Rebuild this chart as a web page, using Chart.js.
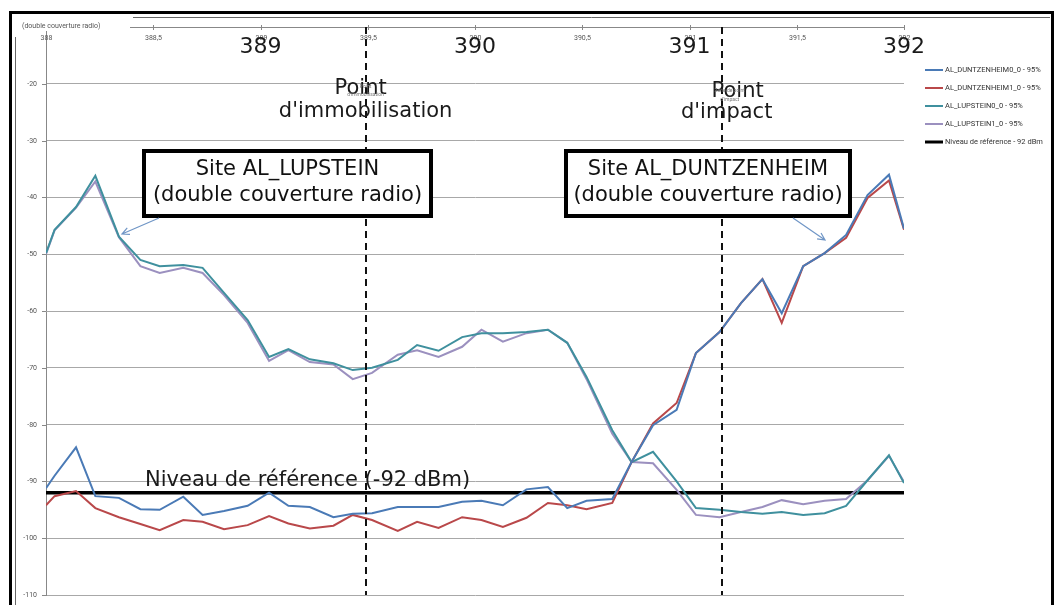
<!DOCTYPE html>
<html lang="fr">
<head>
<meta charset="utf-8">
<title>Couverture radio AL_LUPSTEIN / AL_DUNTZENHEIM</title>
<script src="https://cdn.jsdelivr.net/npm/chart.js@4.4.1/dist/chart.umd.min.js"></script>
<style>
    html, body { margin: 0; padding: 0; background: #fff; }
    #graphique { display: block; }
</style>
</head>
<body>
<canvas id="graphique" width="1056" height="605"></canvas>
<script>
// ==========================================================================
// Niveaux reçus (dBm) le long de la voie, PK 388 -> 392
// ==========================================================================

const pointsKm = [388.00, 388.04, 388.14, 388.23, 388.34, 388.44, 388.53, 388.64, 388.73, 388.83,
    388.94, 389.04, 389.13, 389.23, 389.34, 389.43, 389.52, 389.64, 389.73, 389.83,
    389.94, 390.03, 390.13, 390.24, 390.34, 390.43, 390.52, 390.64, 390.73, 390.83,
    390.94, 391.03, 391.14, 391.24, 391.34, 391.43, 391.53, 391.63, 391.73, 391.83,
    391.93, 392.00];

const duntzenheim0 = [-91.2, -89.0, -84.0, -92.6, -92.9, -94.9, -95.0, -92.7, -95.9, -95.2,
    -94.3, -92.0, -94.3, -94.5, -96.3, -95.7, -95.6, -94.5, -94.5, -94.5,
    -93.6, -93.4, -94.2, -91.4, -91.0, -94.7, -93.4, -93.1, -86.6, -80.1,
    -77.4, -67.4, -63.7, -58.6, -54.4, -60.4, -52.1, -49.8, -46.6, -39.6,
    -36.0, -45.5];

const duntzenheim1 = [-94.2, -92.6, -91.7, -94.7, -96.3, -97.5, -98.6, -96.8, -97.1, -98.4,
    -97.7, -96.1, -97.4, -98.3, -97.8, -95.9, -96.8, -98.7, -97.1, -98.2,
    -96.3, -96.8, -98.0, -96.4, -93.8, -94.2, -94.9, -93.8, -86.6, -79.8,
    -76.2, -67.4, -63.7, -58.6, -54.4, -62.1, -52.1, -49.8, -47.1, -40.1,
    -37.0, -45.7];

const lupstein0 = [-49.8, -45.7, -41.7, -36.2, -46.9, -51.0, -52.1, -51.9, -52.4, -56.8,
    -61.6, -68.1, -66.7, -68.5, -69.2, -70.4, -70.0, -68.6, -66.0, -67.0,
    -64.6, -63.9, -63.9, -63.7, -63.3, -65.6, -71.6, -81.0, -86.6, -84.8,
    -90.0, -94.7, -95.0, -95.4, -95.7, -95.4, -95.9, -95.6, -94.3, -89.8,
    -85.4, -90.3];

const lupstein1 = [-50.0, -45.8, -41.8, -37.2, -47.0, -52.1, -53.3, -52.4, -53.3, -57.2,
    -62.1, -68.8, -66.9, -69.0, -69.4, -72.0, -70.9, -67.7, -66.9, -68.1,
    -66.3, -63.3, -65.4, -63.9, -63.3, -65.6, -72.0, -81.6, -86.6, -86.8,
    -91.5, -95.9, -96.3, -95.4, -94.5, -93.3, -94.0, -93.4, -93.1, -89.8,
    -85.5, -90.1];

const niveauReference = -92;

// Axes
const graduationsX = [388, 388.5, 389, 389.5, 390, 390.5, 391, 391.5, 392];
const grandesEtiquettesX = [389, 390, 391, 392];
const graduationsY = [-20, -30, -40, -50, -60, -70, -80, -90, -100, -110];

// Repères verticaux : point d'immobilisation, point d'impact
const marqueursKm = [389.49, 391.15];

const nomsSeries = ['AL_DUNTZENHEIM0_0 - 95%', 'AL_DUNTZENHEIM1_0 - 95%',
    'AL_LUPSTEIN0_0 - 95%', 'AL_LUPSTEIN1_0 - 95%', 'Niveau de référence - 92 dBm'];
const couleurs = ['#4a7ab6', '#b9484a', '#3f909e', '#9b90bf', '#000000'];

function serie(valeurs) {
    return pointsKm.map((x, i) => ({ x: x, y: valeurs[i] }));
}

// ==========================================================================
// Habillage : étiquettes, cadres, flèches, légende
// ==========================================================================
const POLICE = '21px "DejaVu Sans"';

function texte(ctx, t, x, y, police, couleur, align) {
    ctx.font = police;
    ctx.fillStyle = couleur;
    ctx.textAlign = align || 'center';
    ctx.fillText(t, x, y);
}

function boite(ctx, x, y, w, h, lignes) {
    ctx.fillStyle = '#fff';
    ctx.fillRect(x, y, w, h);
    ctx.lineWidth = 4;
    ctx.strokeStyle = '#000';
    ctx.strokeRect(x, y, w, h);
    ctx.textBaseline = 'middle';
    texte(ctx, lignes[0], x + w / 2, y + 19, POLICE, '#111');
    texte(ctx, lignes[1], x + w / 2, y + 45, POLICE, '#111');
    ctx.textBaseline = 'alphabetic';
}

function fleche(ctx, x1, y1, x2, y2) {
    const ang = Math.atan2(y2 - y1, x2 - x1);
    ctx.strokeStyle = '#7096c6';
    ctx.lineWidth = 1.2;
    ctx.beginPath();
    ctx.moveTo(x1, y1);
    ctx.lineTo(x2, y2);
    ctx.moveTo(x2 - 8 * Math.cos(ang - 0.45), y2 - 8 * Math.sin(ang - 0.45));
    ctx.lineTo(x2, y2);
    ctx.lineTo(x2 - 8 * Math.cos(ang + 0.45), y2 - 8 * Math.sin(ang + 0.45));
    ctx.stroke();
}

const habillage = {
    id: 'habillage',
    beforeDraw(chart) {
        const ctx = chart.ctx;
        ctx.save();
        ctx.fillStyle = '#fff';
        ctx.fillRect(0, 0, chart.width, chart.height);
        ctx.restore();
    },
    afterDraw(chart) {
        const ctx = chart.ctx;
        const sx = chart.scales.x;
        const sy = chart.scales.y;
        const zone = chart.chartArea;
        ctx.save();

        // ---- graduations Y ----
        ctx.strokeStyle = '#888';
        ctx.lineWidth = 1;
        ctx.textBaseline = 'middle';
        graduationsY.forEach(v => {
            const y = Math.round(sy.getPixelForValue(v)) + 0.5;
            ctx.beginPath();
            ctx.moveTo(zone.left - 4, y);
            ctx.lineTo(zone.left, y);
            ctx.stroke();
            texte(ctx, String(v), zone.left - 9, y, '7px Roboto', '#555', 'right');
        });

        // ---- graduations X (en haut) ----
        graduationsX.forEach(v => {
            const x = Math.round(sx.getPixelForValue(v)) + 0.5;
            ctx.beginPath();
            ctx.moveTo(x, zone.top - 2);
            ctx.lineTo(x, zone.top + 3);
            ctx.stroke();
            texte(ctx, String(v).replace('.', ','), x, zone.top + 11, '7px Roboto', '#555');
        });
        ctx.textBaseline = 'alphabetic';
        grandesEtiquettesX.forEach(v => {
            texte(ctx, String(v), sx.getPixelForValue(v), 53, '22px "DejaVu Sans"', '#1a1a1a');
        });

        // ---- titre tronqué en haut à gauche ----
        ctx.fillStyle = '#fff';
        ctx.fillRect(18, 20, 112, 11);
        ctx.textBaseline = 'middle';
        texte(ctx, '(double couverture radio)', 22, 26, '7px Roboto', '#555', 'left');
        ctx.textBaseline = 'alphabetic';

        // ---- repères verticaux pointillés ----
        ctx.strokeStyle = '#111';
        ctx.lineWidth = 2;
        ctx.setLineDash([7, 5]);
        marqueursKm.forEach(m => {
            const x = Math.round(sx.getPixelForValue(m));
            ctx.beginPath();
            ctx.moveTo(x, zone.top);
            ctx.lineTo(x, zone.bottom);
            ctx.stroke();
        });
        ctx.setLineDash([]);

        // ---- libellés des repères ----
        const xImmo = sx.getPixelForValue(marqueursKm[0]);
        const xImpact = sx.getPixelForValue(marqueursKm[1]);
        texte(ctx, 'Point', xImmo - 5, 94, POLICE, '#1a1a1a');
        texte(ctx, "d'immobilisation", xImmo, 117, POLICE, '#1a1a1a');
        texte(ctx, 'Point', xImmo, 88, '5px Roboto', '#777');
        texte(ctx, "d'immobilisation", xImmo, 96, '5px Roboto', '#777');
        texte(ctx, 'Point', xImpact + 16, 97, POLICE, '#1a1a1a');
        texte(ctx, "d'impact", xImpact + 5, 118, POLICE, '#1a1a1a');
        texte(ctx, 'Zone de point', xImpact + 8, 92, '5px Roboto', '#777');
        texte(ctx, "d'impact", xImpact + 8, 101, '5px Roboto', '#777');

        // ---- cadres des sites ----
        boite(ctx, 144, 151, 287, 65, ['Site AL_LUPSTEIN', '(double couverture radio)']);
        boite(ctx, 566, 151, 284, 65, ['Site AL_DUNTZENHEIM', '(double couverture radio)']);
        fleche(ctx, 159, 218, 122, 234);
        fleche(ctx, 793, 218, 825, 240);

        // ---- niveau de référence ----
        texte(ctx, 'Niveau de référence (-92 dBm)', 145, 486, POLICE, '#1a1a1a', 'left');

        // ---- légende ----
        ctx.textBaseline = 'middle';
        nomsSeries.forEach((nom, i) => {
            const y = 70 + i * 18;
            ctx.strokeStyle = couleurs[i];
            ctx.lineWidth = i === 4 ? 3 : 2;
            ctx.beginPath();
            ctx.moveTo(925, y);
            ctx.lineTo(943, y);
            ctx.stroke();
            texte(ctx, nom, 945, y, '7.5px Roboto', '#333', 'left');
        });
        ctx.textBaseline = 'alphabetic';

        // ---- cadre de la diapositive ----
        ctx.strokeStyle = '#000';
        ctx.lineWidth = 3;
        ctx.strokeRect(10.5, 12.5, 1042, 620);
        ctx.strokeStyle = '#666';
        ctx.lineWidth = 1;
        ctx.beginPath();
        ctx.moveTo(133, 17.5);
        ctx.lineTo(1050, 17.5);
        ctx.moveTo(15.5, 37);
        ctx.lineTo(15.5, 605);
        ctx.stroke();

        ctx.restore();
    }
};

// ==========================================================================
// Graphique
// ==========================================================================
const jeux = [duntzenheim0, duntzenheim1, lupstein0, lupstein1].map((valeurs, i) => ({
    label: nomsSeries[i],
    data: serie(valeurs),
    borderColor: couleurs[i],
    borderWidth: 2,
    pointRadius: 0,
    tension: 0,
    fill: false
}));

jeux.push({
    label: nomsSeries[4],
    data: [{ x: graduationsX[0], y: niveauReference }, { x: graduationsX[graduationsX.length - 1], y: niveauReference }],
    borderColor: couleurs[4],
    borderWidth: 3.5,
    pointRadius: 0,
    fill: false
});

new Chart(document.getElementById('graphique').getContext('2d'), {
    type: 'line',
    data: { datasets: jeux },
    options: {
        responsive: false,
        animation: false,
        layout: { padding: { left: 46, top: 27, right: 152, bottom: 10 } },
        plugins: {
            legend: { display: false },
            tooltip: { enabled: false }
        },
        scales: {
            x: {
                type: 'linear',
                position: 'top',
                min: 388,
                max: 392,
                ticks: { display: false },
                grid: { display: false, drawTicks: false },
                border: { color: '#888', width: 1 }
            },
            y: {
                min: -110,
                max: -10,
                ticks: { display: false, stepSize: 10 },
                grid: { color: '#a8a8a8', lineWidth: 1, drawTicks: false },
                border: { color: '#888', width: 1 }
            }
        }
    },
    plugins: [habillage]
});
</script>
</body>
</html>
